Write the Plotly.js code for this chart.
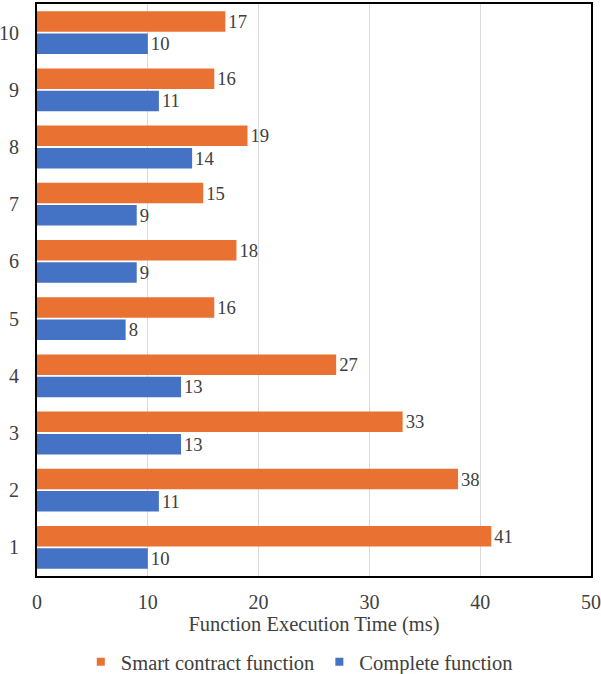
<!DOCTYPE html>
<html>
<head>
<meta charset="utf-8">
<script src="https://cdn.plot.ly/plotly-3.0.1.min.js"></script>
<style>html,body{margin:0;padding:0;background:#fff;}#chart{width:601px;height:674px;}</style>
</head>
<body>
<div id="chart"></div>
<script>
const categories = ['1','2','3','4','5','6','7','8','9','10'];
const smartContract = [41, 38, 33, 27, 16, 18, 15, 19, 16, 17];
const completeFn = [10, 11, 13, 13, 8, 9, 9, 14, 11, 10];
const xTicks = [0, 10, 20, 30, 40, 50];
const seriesNames = ['Smart contract function', 'Complete function'];
const seriesColors = ['#E97132', '#4472C4'];

function mkFont(size) { return {family: 'Times New Roman', size: size, color: '#404040'}; }

const data = [
  {type: 'bar', orientation: 'h', name: seriesNames[1], y: categories, x: completeFn,
   marker: {color: seriesColors[1]}, text: completeFn.map(String), textposition: 'outside',
   textfont: mkFont(20), cliponaxis: false, hoverinfo: 'none', showlegend: false},
  {type: 'bar', orientation: 'h', name: seriesNames[0], y: categories, x: smartContract,
   marker: {color: seriesColors[0]}, text: smartContract.map(String), textposition: 'outside',
   textfont: mkFont(20), cliponaxis: false, hoverinfo: 'none', showlegend: false},
  {type: 'scatter', mode: 'markers', name: seriesNames[0], x: [null], y: [null],
   marker: {symbol: 'square', size: 8, color: seriesColors[0]}, hoverinfo: 'none'},
  {type: 'scatter', mode: 'markers', name: seriesNames[1], x: [null], y: [null],
   marker: {symbol: 'square', size: 8, color: seriesColors[1]}, hoverinfo: 'none'}
];

const layout = {
  width: 601, height: 674,
  margin: {l: 37, r: 10, t: 4, b: 98, autoexpand: false},
  paper_bgcolor: '#fff', plot_bgcolor: '#fff',
  font: mkFont(20),
  barmode: 'group', bargap: 0.22, bargroupgap: 0.08,
  showlegend: true,
  legend: {orientation: 'h', x: 0.498, xanchor: 'center', xref: 'container', y: 12/674, yanchor: 'middle', yref: 'container',
           traceorder: 'normal', itemwidth: 30, font: mkFont(20.5)},
  xaxis: {range: [0, 50], tickvals: xTicks, showgrid: true, gridcolor: '#d9d9d9', gridwidth: 1,
          zeroline: false, showline: true, linecolor: '#000', linewidth: 2, mirror: true, automargin: false,
          ticks: 'outside', ticklen: 7, tickcolor: 'rgba(0,0,0,0)', tickfont: mkFont(20),
          title: {text: 'Function Execution Time (ms)', font: mkFont(20.5), standoff: 5}},
  yaxis: {type: 'category', categoryorder: 'array', categoryarray: categories, range: [-0.5, 9.5], automargin: false,
          showgrid: false, zeroline: false, showline: true, linecolor: '#000', linewidth: 2, mirror: true,
          ticks: 'outside', ticklen: 12, tickcolor: 'rgba(0,0,0,0)', tickfont: mkFont(20)}
};

Plotly.newPlot('chart', data, layout, {displayModeBar: false, staticPlot: true});
</script>
</body>
</html>
